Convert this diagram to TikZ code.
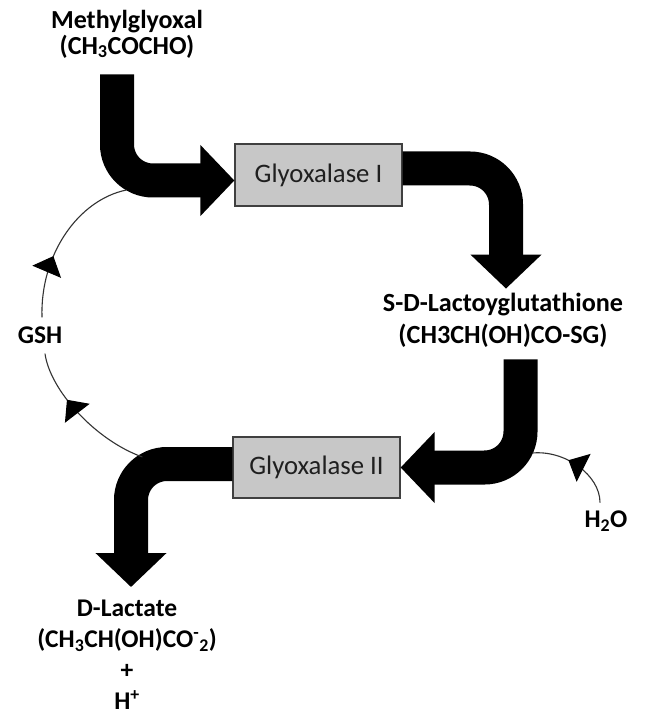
\documentclass[tikz,border=0pt]{standalone}
\usepackage{fontspec}
\setmainfont{Carlito}
\usetikzlibrary{arrows.meta,calc,decorations.markings}
\begin{document}
\begin{tikzpicture}[x=1pt,y=-1pt,
  lbl/.style={font=\bfseries\fontsize{26}{26}\selectfont, align=center, inner sep=0pt, text=black},
  enzyme/.style={draw=black!75, line width=1.2pt, fill=black!22, minimum width=167pt, minimum height=62pt, font=\fontsize{26.7}{30}\selectfont, text=black!88, inner sep=0pt},
  big/.style={draw=black, line width=34pt, rounded corners=36pt, -{Triangle[width=69pt,length=34pt]}},
  loopline/.style={draw=black!80, line width=1.1pt},
  midtip/.style={postaction={decorate}, decoration={markings, mark=at position #1 with {\arrow[black]{Triangle[width=31pt,length=17pt]}}}}
]
\useasboundingbox (0,0) rectangle (646,719);
\fill[white] (0,0) rectangle (646,719);

\node[lbl] (mg) at (127,34) {Methylglyoxal\\(CH\textsubscript{3}COCHO)};
\node[enzyme] (g1) at (318.5,175) {Glyoxalase I};
\node[lbl, font=\bfseries\fontsize{26.2}{32}\selectfont] (sdl) at (503,320) {S-D-Lactoyglutathione\\(CH3CH(OH)CO-SG)};
\node[enzyme, minimum height=61pt] (g2) at (316.5,467.5) {Glyoxalase II};
\node[lbl, font=\bfseries\fontsize{25.5}{31}\selectfont] (dl) at (127,655) {D-Lactate\\(CH\textsubscript{3}CH(OH)CO\textsuperscript{-}\textsubscript{2})\\+\\H\textsuperscript{+}};
\node[lbl, font=\bfseries\fontsize{25.5}{26}\selectfont] (gsh) at (40,335) {GSH};
\node[lbl, font=\bfseries\fontsize{25.5}{26}\selectfont] (h2o) at (606,521) {H\textsubscript{2}O};

% main flow arrows
\draw[big] ($(mg.south)+(-10,16)$) |- ($(g1.west)+(0,5.5)$);
\draw[big] ($(g1.east)+(0,-6.5)$) -| ($(sdl.north)+(3,-4)$);
\draw[big] ($(sdl.south)+(17.5,12)$) |- (g2.east);
\draw[big] ($(g2.west)+(0,-3.5)$) -| ($(dl.north)+(4,-13)$);

% GSH recycling loop
\draw[loopline, midtip=0.65] ($(g2.west)+(-90,-10.5)$) .. controls (95,440) and (50,390) .. ($(gsh.south)+(5,10)$);
\draw[loopline, midtip=0.38] ($(gsh.north)+(2,-9)$) .. controls (40,255) and (78,200) .. ($(g1.west)+(-108,15)$);

% water input
\draw[loopline, midtip=0.6] ($(h2o.north)+(-6,-8)$) .. controls (600,475) and (565,450) .. ($(g2.east)+(132,-14.5)$);
\end{tikzpicture}
\end{document}
